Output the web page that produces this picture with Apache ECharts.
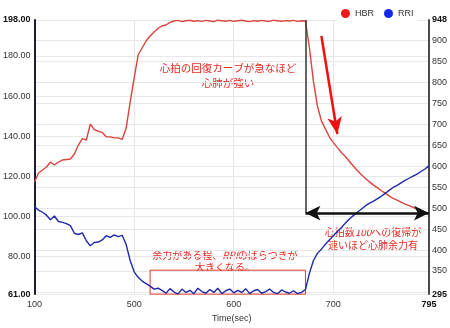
<!DOCTYPE html>
<html>
<head>
<meta charset="utf-8">
<script src="https://cdn.jsdelivr.net/npm/echarts@6/dist/echarts.min.js"></script>
<style>
  html, body { margin: 0; padding: 0; background: #fff; }
  #chart { width: 450px; height: 328px; }
</style>
</head>
<body>
<div id="chart"></div>
<script>
// Sample times (sec): coarse sampling during the warm-up, 4 s steps from 500 s
const times = [
  100, 116, 132, 148, 164, 180, 196, 212, 228, 244, 260, 276, 292, 308, 324, 340, 356, 372, 388, 404, 420, 436, 452, 468, 484,
  500, 504, 508, 512, 516, 520, 524, 528, 532, 536, 540, 544, 548, 552, 556, 560, 564, 568, 572, 576, 580, 584, 588, 592, 596,
  600, 604, 608, 612, 616, 620, 624, 628, 632, 636, 640, 644, 648, 652, 656, 660, 664, 668, 672, 676, 680, 684, 688, 692, 696,
  700, 704, 708, 712, 716, 720, 724, 728, 732, 736, 740, 744, 748, 752, 756, 760, 764, 768, 772, 776, 780, 784, 788, 792, 795
];

// Heart beat rate (bpm)
const hbr = [
  117, 121.5, 123, 124.5, 127, 125.5, 127, 128, 128.3, 128.5, 131, 135.5, 138.7, 138, 146, 143.2, 142.4, 141.8, 139.6, 139.6, 139.1, 139.1, 138.3, 144, 157,
  169, 180.5, 184, 187.5, 190, 192, 193.8, 195, 195.5, 196.8,
  197.5, 197.8, 197.2, 197.6, 197.9, 197.4, 197.7, 197.3, 197.8, 197.5,
  197.2, 197.9, 197.6, 197.4, 197.8, 197.3, 197.6, 197.9, 197.5, 197.2,
  197.7, 197.4, 197.8, 197.5, 197.3, 197.9, 197.6, 197.4, 197.7, 197.5,
  197.8, 197.3, 197.6, 197.5,
  184, 167.3, 155, 147.6, 143.6, 139.5, 136.7, 134.2, 131.8, 129.8, 127.4, 125, 122.8, 120.8, 118.9, 117.2,
  115.6, 114.2, 112.8, 111.5, 110.1, 108.8, 108, 107, 106, 105.2, 104.4, 103.5, 102.8, 102, 101.5
];

// R-R interval (ms)
const rri = [
  503, 495, 490, 483, 472, 481, 468, 466, 463, 458, 440, 437, 441, 422, 410, 418, 419, 424, 434, 430, 436, 432, 435, 413, 375,
  348, 335, 326, 320, 314, 307, 309,
  304, 297, 308, 300, 295, 307, 299, 304, 296, 309,
  301, 297, 306, 299, 309, 296, 303, 307, 298, 304,
  299, 308, 296, 303, 306, 297, 301, 307, 299, 296,
  305, 300, 297, 303, 296, 299, 306,
  345, 375, 392, 402, 414, 424, 434, 444, 453, 464, 474, 482, 490, 497, 505, 511,
  516, 522, 528, 535, 542, 549, 554, 560, 566, 571, 576, 581, 587, 593, 601
];

// Axis ranges and labelled time ticks
const hbrRange = [61, 198];
const rriRange = [295, 948];
const timeTicks = ['100', '500', '600', '700', '795'];

// Key moments for the annotations
const recoveryStart = '672';   // end of the load phase
const recoveryEnd = '795';
const recoveryLevel = 101.5;   // HBR level reached at the end
const arrowFrom = ['688', 190];
const arrowTo = ['704', 141];
const plateauBox = [['516', 352], ['672', 287]];

const hbrColor = '#d8443e';
const rriColor = '#1f2aa6';
const noteColor = '#e42b22';
const jpFont = '"Noto Sans CJK JP", "Noto Sans CJK SC", sans-serif';

const chart = echarts.init(document.getElementById('chart'), null, { renderer: 'canvas' });

const showTick = (idx, val) => timeTicks.indexOf(String(val)) >= 0;

const option = {
  animation: false,
  backgroundColor: '#fff',
  textStyle: { fontFamily: '"Liberation Sans", Arial, sans-serif' },
  grid: { left: 33, right: 18, top: 20, bottom: 31, containLabel: false },
  legend: {
    left: 337, top: 5,
    padding: [4, 4],
    itemGap: 10,
    itemWidth: 9, itemHeight: 9,
    backgroundColor: '#fff',
    textStyle: { fontSize: 9, color: '#333' },
    data: [
      { name: 'HBR', icon: 'circle', itemStyle: { color: '#f01818' } },
      { name: 'RRI', icon: 'circle', itemStyle: { color: '#1428f0' } }
    ]
  },
  xAxis: {
    type: 'category',
    data: times.map(String),
    boundaryGap: false,
    name: 'Time(sec)',
    nameLocation: 'middle',
    nameGap: 17,
    nameTextStyle: { fontSize: 9, color: '#333' },
    axisLine: { show: false },
    axisTick: { show: false },
    axisLabel: {
      interval: showTick,
      fontSize: 9,
      color: '#333',
      margin: 6,
      formatter: v => v === recoveryEnd ? '{b|' + v + '}' : v,
      rich: { b: { fontSize: 9, fontWeight: 'bold', color: '#111' } }
    },
    splitLine: { show: true, interval: showTick, lineStyle: { color: '#e6e6e6', width: 1 } }
  },
  yAxis: [
    {
      type: 'value',
      min: hbrRange[0], max: hbrRange[1],
      splitNumber: 7,
      position: 'left',
      axisLine: { show: true, lineStyle: { color: '#1c1c3a', width: 2 } },
      axisTick: { show: false },
      axisLabel: {
        fontSize: 9, color: '#333', margin: 4,
        formatter: v => (v === hbrRange[0] || v === hbrRange[1]) ? '{b|' + v.toFixed(2) + '}' : v.toFixed(2),
        rich: { b: { fontSize: 9, fontWeight: 'bold', color: '#111' } }
      },
      splitLine: { show: true, lineStyle: { color: '#e8e8e8', width: 1 } }
    },
    {
      type: 'value',
      min: rriRange[0], max: rriRange[1],
      splitNumber: 13,
      position: 'right',
      axisLine: { show: true, lineStyle: { color: '#4a4a4a', width: 2 } },
      axisTick: { show: false },
      axisLabel: {
        fontSize: 9, color: '#333', margin: 3,
        formatter: v => {
          if (v === rriRange[0] || v === rriRange[1]) return '{b|' + v + '}';
          if (v - rriRange[0] < 20) return '';
          return String(v);
        },
        rich: { b: { fontSize: 9, fontWeight: 'bold', color: '#111' } }
      },
      splitLine: { show: true, lineStyle: { color: '#e8e8e8', width: 1 } }
    }
  ],
  series: [
    {
      name: 'HBR',
      type: 'line',
      yAxisIndex: 0,
      data: hbr,
      showSymbol: false,
      color: hbrColor,
      lineStyle: { color: hbrColor, width: 1.4 },
      markLine: {
        silent: true,
        animation: false,
        label: { show: false },
        data: [
          [
            { coord: [recoveryStart, hbrRange[1]], symbol: 'none', lineStyle: { color: '#333', width: 1.5, type: 'solid' } },
            { coord: [recoveryStart, recoveryLevel], symbol: 'none' }
          ],
          [
            { coord: [recoveryStart, recoveryLevel], symbol: 'arrow', symbolSize: [11, 15], lineStyle: { color: '#111', width: 2.5, type: 'solid' } },
            { coord: [recoveryEnd, recoveryLevel], symbol: 'arrow', symbolSize: [11, 15] }
          ],
          [
            { coord: arrowFrom, symbol: 'none', lineStyle: { color: '#f01010', width: 2.5, type: 'solid' } },
            { coord: arrowTo, symbol: 'arrow', symbolSize: [11, 17] }
          ]
        ]
      }
    },
    {
      name: 'RRI',
      type: 'line',
      yAxisIndex: 1,
      data: rri,
      showSymbol: false,
      color: rriColor,
      lineStyle: { color: rriColor, width: 1.4 },
      markArea: {
        silent: true,
        itemStyle: { color: 'rgba(0,0,0,0)', borderColor: '#e03a2a', borderWidth: 1 },
        data: [[{ coord: plateauBox[0] }, { coord: plateauBox[1] }]]
      }
    }
  ],
  graphic: [
    {
      type: 'text', x: 228, y: 76, silent: true,
      style: {
        text: '心拍の回復カーブが急なほど\n心肺が強い',
        fill: noteColor, fontSize: 10.5, fontFamily: jpFont,
        align: 'center', verticalAlign: 'middle', lineHeight: 15
      }
    },
    {
      type: 'text', x: 225, y: 261, silent: true,
      style: {
        text: '余力がある程、{i|RRI}のばらつきが\n大きくなる。',
        fill: noteColor, fontSize: 10, fontFamily: jpFont,
        align: 'center', verticalAlign: 'middle', lineHeight: 12.5,
        rich: { i: { fontStyle: 'italic', fontSize: 10, fontFamily: jpFont, fill: noteColor, color: noteColor } }
      }
    },
    {
      type: 'text', x: 373, y: 239, silent: true,
      style: {
        text: '心拍数{i|100}への復帰が\n速いほど心肺余力有',
        fill: noteColor, fontSize: 10, fontFamily: jpFont,
        align: 'center', verticalAlign: 'middle', lineHeight: 13,
        rich: { i: { fontStyle: 'italic', fontSize: 10, fontFamily: jpFont, fill: noteColor, color: noteColor } }
      }
    }
  ]
};

chart.setOption(option);
</script>
</body>
</html>
